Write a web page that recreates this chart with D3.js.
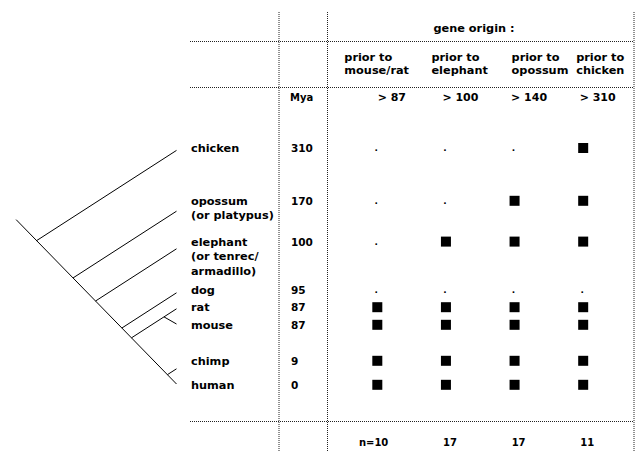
<!DOCTYPE html>
<html>
<head>
<meta charset="utf-8">
<script src="https://cdn.jsdelivr.net/npm/d3@7"></script>
<style>
  body { margin: 0; background: #fff; }
  text { font-family: Verdana, 'DejaVu Sans', sans-serif; font-weight: bold; fill: #000; }
</style>
</head>
<body>
<div id="chart"></div>
<script>
// data
let species = ['chicken', 'opossum', 'elephant', 'dog', 'rat', 'mouse', 'chimp', 'human'];
let speciesLines = [
    ['chicken'],
    ['opossum', '(or platypus)'],
    ['elephant', '(or tenrec/', 'armadillo)'],
    ['dog'], ['rat'], ['mouse'], ['chimp'], ['human']
];
let mya = [310, 170, 100, 95, 87, 87, 9, 0];
// row of each species in the table (line units) and where its tree tip ends
let rowPos = [0, 3.3, 5.85, 8.9, 9.95, 11.05, 13.3, 14.8];
let tipRow = [0.15, 3.95, 6.3, 9.05, 10.05, 11.0, 13.8, 14.75];
// tree: every leaf hangs off the trunk, mouse hangs off rat, human ends the trunk
let parent = ['trunk', 'trunk', 'trunk', 'trunk', 'trunk', 'rat', 'trunk', null];

let origins = ['mouse/rat', 'elephant', 'opossum', 'chicken'];
let thresholds = ['> 87', '> 100', '> 140', '> 310'];
let counts = ['n=10', '17', '17', '11'];
// gene present (1) or not (0) per species x origin column
let presence = [
    [0, 0, 0, 1],
    [0, 0, 1, 1],
    [0, 1, 1, 1],
    [0, 0, 0, 0],
    [1, 1, 1, 1],
    [1, 1, 1, 1],
    [1, 1, 1, 1],
    [1, 1, 1, 1]
];

// layout
let svgWidth = 636;
let svgHeight = 451;
let gridLeft = 190, gridRight = 634;
let vLines = [279, 327.5, 634];
let hLines = [41.5, 87.5, 421.5];
let labelX = 191, myaX = 291;
let headerShift = [-33, -14.5, -3, -7];

let svg = d3.select('#chart').append('svg')
    .attr('width', svgWidth)
    .attr('height', svgHeight);

// scales
let yScale = d3.scaleLinear().domain([0, 15]).range([148, 388]);
let xCol = d3.scaleBand().domain(origins).range([343, 617.5]);
let colCenter = c => xCol(c) + xCol.bandwidth() / 2;

// dotted grid
svg.selectAll('.vline').data(vLines).enter().append('line')
    .attr('x1', d => d).attr('x2', d => d)
    .attr('y1', 12).attr('y2', svgHeight)
    .attr('stroke', '#222').attr('stroke-dasharray', '1 1');
svg.selectAll('.hline').data(hLines).enter().append('line')
    .attr('x1', gridLeft).attr('x2', gridRight)
    .attr('y1', d => d).attr('y2', d => d)
    .attr('stroke', '#222').attr('stroke-dasharray', '1 1');

// header texts
svg.append('text')
    .attr('x', 474).attr('y', 28)
    .attr('dominant-baseline', 'central')
    .attr('text-anchor', 'middle')
    .attr('font-size', '11.3px')
    .text('gene origin :');

let head = svg.selectAll('.head').data(origins).enter().append('text')
    .attr('x', (d, i) => colCenter(d) + headerShift[i])
    .attr('y', 57)
    .attr('dominant-baseline', 'central')
    .attr('font-size', '11.3px');
head.append('tspan').text('prior to');
head.append('tspan')
    .attr('x', (d, i) => colCenter(d) + headerShift[i])
    .attr('dy', 13)
    .text(d => d);

svg.append('text')
    .attr('x', 290).attr('y', 97)
    .attr('dominant-baseline', 'central')
    .attr('font-size', '10px')
    .text('Mya');

svg.selectAll('.thr').data(thresholds).enter().append('text')
    .attr('x', (d, i) => colCenter(origins[i]) + 14.5)
    .attr('y', 97)
    .attr('dominant-baseline', 'central')
    .attr('text-anchor', 'middle')
    .attr('font-size', '11px')
    .text(d => d);

svg.selectAll('.cnt').data(counts).enter().append('text')
    .attr('x', (d, i) => colCenter(origins[i]) + 11)
    .attr('y', 442)
    .attr('dominant-baseline', 'central')
    .attr('text-anchor', 'end')
    .attr('font-size', '10px')
    .text(d => d);

// species labels
let lab = svg.selectAll('.lab').data(speciesLines).enter().append('text')
    .attr('y', (d, i) => yScale(rowPos[i]))
    .attr('dominant-baseline', 'central')
    .attr('font-size', '11.3px');
lab.selectAll('tspan').data(d => d).enter().append('tspan')
    .attr('x', labelX)
    .attr('dy', (d, j) => j === 0 ? 0 : 14.5)
    .text(d => d);

// Mya values
svg.selectAll('.mya').data(mya).enter().append('text')
    .attr('x', myaX)
    .attr('y', (d, i) => yScale(rowPos[i]))
    .attr('dominant-baseline', 'central')
    .attr('font-size', '10.5px')
    .text(d => d);

// presence matrix: squares or dots
let cells = [];
presence.forEach((row, i) => row.forEach((v, j) => cells.push({ i, j, v })));

svg.selectAll('.sq').data(cells.filter(c => c.v)).enter().append('rect')
    .attr('x', d => colCenter(origins[d.j]) - 5)
    .attr('y', d => yScale(rowPos[d.i]) - 5)
    .attr('width', 10).attr('height', 10)
    .attr('fill', '#000');

svg.selectAll('.dot').data(cells.filter(c => !c.v)).enter().append('text')
    .attr('x', d => colCenter(origins[d.j]) - 1)
    .attr('y', d => yScale(rowPos[d.i]))
    .attr('dominant-baseline', 'central')
    .attr('text-anchor', 'middle')
    .attr('font-size', '9px')
    .text('.');

// cladogram: trunk slopes down-right, branches run up-right to the tips
let tipX = 176.5;
let slopeT = 1.025, slopeB = -0.645, slopeTwig = 0.57;
let yTip = i => yScale(tipRow[i]);
let iHuman = species.indexOf('human');
let yEnd = yTip(iHuman);

let branches = [];
species.forEach((s, i) => {
    if (parent[i] === 'trunk') {
        let d = (yTip(i) - yEnd) / (slopeT - slopeB);
        branches.push({ x1: tipX + d, y1: yEnd + slopeT * d, x2: tipX, y2: yTip(i) });
    } else if (parent[i] !== null) {
        let p = species.indexOf(parent[i]);
        let d = (yTip(i) - yTip(p)) / (slopeB - slopeTwig);
        branches.push({ x1: tipX + d, y1: yTip(p) + slopeB * d, x2: tipX, y2: yTip(i) });
    }
});

// trunk from a short root stub above the first split down to the human tip
let dRoot = (yTip(0) - yEnd) / (slopeT - slopeB) - 20.5;
branches.push({ x1: tipX + dRoot, y1: yEnd + slopeT * dRoot, x2: tipX, y2: yEnd });

svg.selectAll('.branch').data(branches).enter().append('line')
    .attr('x1', d => d.x1).attr('y1', d => d.y1)
    .attr('x2', d => d.x2).attr('y2', d => d.y2)
    .attr('stroke', '#000')
    .attr('stroke-width', 1);
</script>
</body>
</html>
